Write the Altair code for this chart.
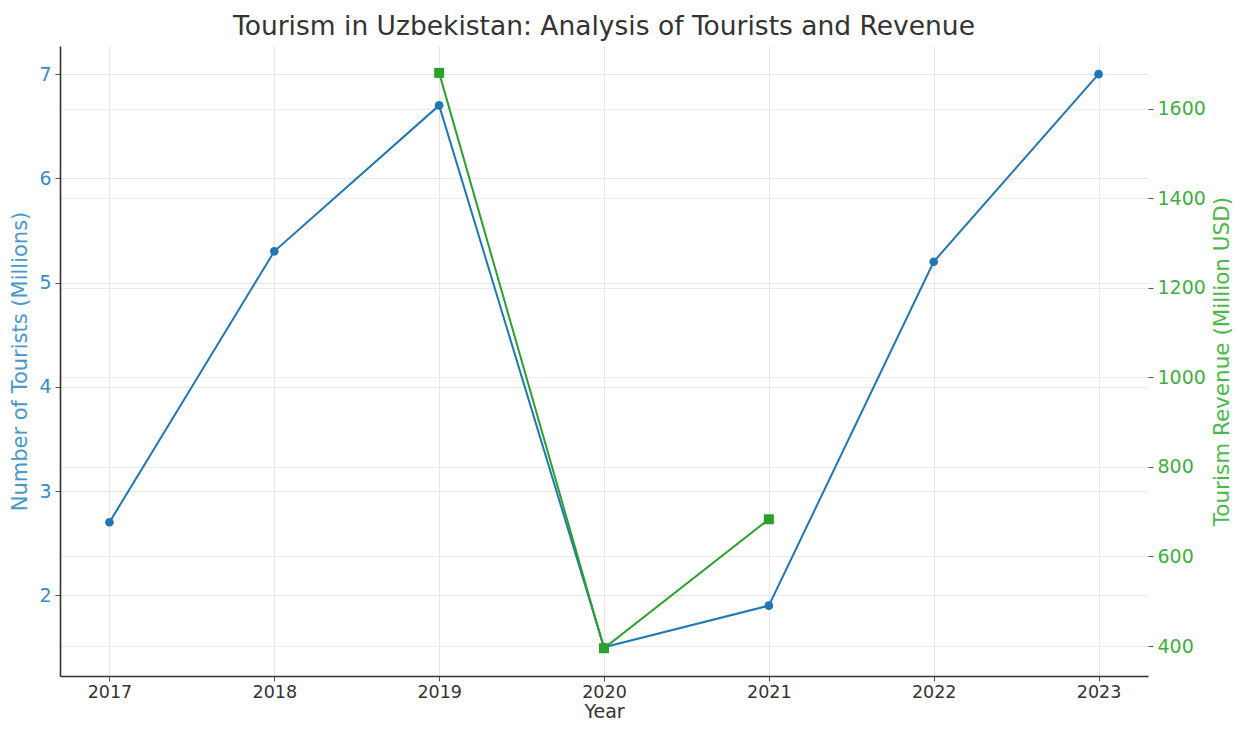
import altair as alt
import pandas as pd

years = [2017, 2018, 2019, 2020, 2021, 2022, 2023]
tourists = [2.7, 5.3, 6.7, 1.5, 1.9, 5.2, 7.0]
rev_years = [2019, 2020, 2021]
revenue = [1680, 395, 683]

df_t = pd.DataFrame({"Year": years, "Tourists": tourists})
df_r = pd.DataFrame({"Year": rev_years, "Revenue": revenue})

FONT = "DejaVu Sans"
BLUE = "#1f77b4"
GREEN = "#2ca02c"

x_enc = alt.X(
    "Year:Q",
    scale=alt.Scale(domain=[2016.7, 2023.3], nice=False, zero=False),
    axis=alt.Axis(
        values=years, format="d", title="Year", grid=True, gridColor="#e6e6e6",
        labelFontSize=17.5, titleFontSize=19, labelColor="#333333", titleColor="#333333",
        domainColor="#333333", domainWidth=1.6, tickColor="#555555", tickSize=5,
        labelPadding=2, titlePadding=2, labelFont=FONT, titleFont=FONT,
        titleFontWeight="normal",
    ),
)

base_t = alt.Chart(df_t).encode(
    x=x_enc,
    y=alt.Y(
        "Tourists:Q",
        scale=alt.Scale(domain=[1.225, 7.27], nice=False, zero=False),
        axis=alt.Axis(
            values=[2, 3, 4, 5, 6, 7], orient="left", title="Number of Tourists (Millions)",
            grid=True, gridColor="#e6e6e6", labelFontSize=19, titleFontSize=21,
            labelColor="#3a8ac4", titleColor="#4a97cc", domainColor="#333333",
            domainWidth=1.6, tickColor="#555555", tickSize=5, labelPadding=4,
            titlePadding=8, labelFont=FONT, titleFont=FONT, titleFontWeight="normal",
        ),
    ),
)
line_t = base_t.mark_line(color=BLUE, strokeWidth=2)
pts_t = base_t.mark_point(color=BLUE, filled=True, opacity=1, size=75, shape="circle")

base_r = alt.Chart(df_r).encode(
    x=x_enc,
    y=alt.Y(
        "Revenue:Q",
        scale=alt.Scale(domain=[333, 1740], nice=False, zero=False),
        axis=alt.Axis(
            values=[400, 600, 800, 1000, 1200, 1400, 1600], orient="right", format="d",
            title="Tourism Revenue (Million USD)", grid=True, gridColor="#ececec",
            labelFontSize=19, titleFontSize=21.5, labelColor="#3fae3f", titleColor="#4cb84c",
            domain=False, tickColor="#555555", tickSize=5, labelPadding=4,
            titlePadding=6, titleAngle=270, titleBaseline="top", labelFont=FONT,
            titleFont=FONT, titleFontWeight="normal",
        ),
    ),
)
line_r = base_r.mark_line(color=GREEN, strokeWidth=2)
pts_r = base_r.mark_point(color=GREEN, filled=True, opacity=1, size=100, shape="square")

left = alt.layer(line_t, pts_t)
right = alt.layer(line_r, pts_r)

chart = (
    alt.layer(left, right)
    .resolve_scale(y="independent")
    .properties(
        width=1088,
        height=630,
        background="white",
        title=alt.TitleParams(
            "Tourism in Uzbekistan: Analysis of Tourists and Revenue",
            fontSize=26.5, font=FONT, fontWeight="normal", color="#333333",
            anchor="middle", offset=6,
        ),
        autosize=alt.AutoSizeParams(type="none"),
        padding={"left": 52, "top": 38, "right": 88, "bottom": 47},
    )
    .configure_view(stroke=None)
)

chart.save("out.html", embed_options={"renderer": "svg", "actions": False})
